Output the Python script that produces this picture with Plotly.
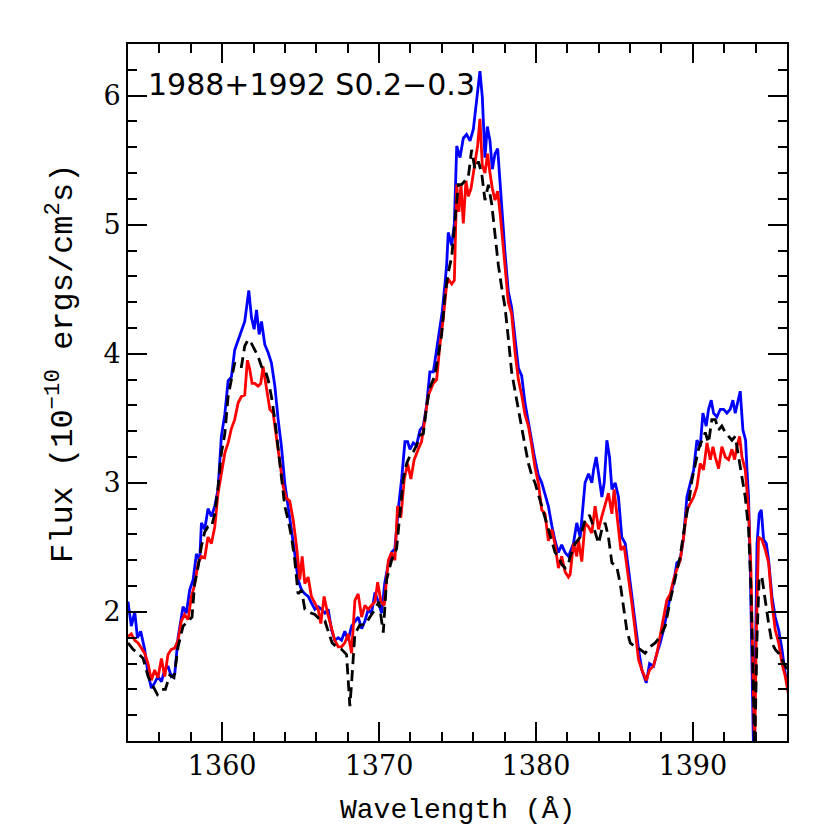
import plotly.graph_objects as go

# --- data (wavelength in Å, flux in 1e-10 ergs/cm^2/s) ---
wl_blue = [
    1354.00, 1354.21, 1354.43, 1354.60, 1354.81, 1355.06, 1355.28, 1355.49, 1355.70, 1355.91,
    1356.13, 1356.34, 1356.55, 1356.76, 1356.98, 1357.19, 1357.51, 1357.72, 1357.93, 1358.15,
    1358.36, 1358.57, 1358.68, 1358.89, 1359.10, 1359.32, 1359.53, 1359.74, 1359.95, 1360.17,
    1360.38, 1360.59, 1360.80, 1361.02, 1361.23, 1361.44, 1361.70, 1361.87, 1362.04, 1362.19,
    1362.36, 1362.51, 1362.72, 1362.93, 1363.14, 1363.36, 1363.57, 1363.78, 1363.99, 1364.21,
    1364.42, 1364.63, 1364.84, 1365.06, 1365.27, 1365.48, 1365.69, 1365.91, 1366.12, 1366.33,
    1366.55, 1366.76, 1366.97, 1367.18, 1367.40, 1367.61, 1367.82, 1368.03, 1368.25,
    1368.67, 1368.89, 1369.10, 1369.31, 1369.52, 1369.74, 1369.95, 1370.16, 1370.37, 1370.59,
    1370.80, 1371.01, 1371.22, 1371.44, 1371.65, 1371.82, 1371.97, 1372.18, 1372.39, 1372.61,
    1372.82, 1373.03, 1373.24, 1373.46, 1373.67, 1373.88, 1374.03, 1374.20, 1374.31, 1374.41,
    1374.63, 1374.80, 1374.95, 1375.16, 1375.37, 1375.58, 1375.80, 1376.01, 1376.16, 1376.33,
    1376.43, 1376.58, 1376.75, 1376.90, 1377.07, 1377.22, 1377.39, 1377.56, 1377.71, 1377.86,
    1378.03, 1378.24, 1378.45, 1378.67, 1378.88, 1379.09, 1379.30, 1379.52, 1379.73, 1379.94,
    1380.15, 1380.37, 1380.58, 1380.79, 1381.01, 1381.22, 1381.43, 1381.64, 1381.86, 1382.07,
    1382.39, 1382.60, 1382.82, 1383.03, 1383.13, 1383.35, 1383.56, 1383.67, 1383.84, 1384.05,
    1384.20, 1384.35, 1384.52, 1384.69, 1384.84, 1385.05, 1385.26, 1385.47, 1385.69, 1385.90,
    1386.11, 1386.32, 1386.54, 1386.75, 1387.03, 1387.24, 1387.49, 1387.71, 1387.92, 1388.13,
    1388.34, 1388.56, 1388.77, 1388.98, 1389.19, 1389.41, 1389.62, 1389.83, 1390.05, 1390.26,
    1390.47, 1390.64, 1390.85, 1391.00, 1391.17, 1391.32, 1391.53, 1391.75, 1391.96, 1392.17,
    1392.38, 1392.55, 1392.70, 1392.85, 1393.02, 1393.19, 1393.36, 1393.45, 1393.55, 1393.66,
    1393.77, 1393.87, 1393.98, 1394.09, 1394.23, 1394.36, 1394.51, 1394.68, 1394.83, 1395.04,
    1395.25, 1395.47, 1395.68, 1395.89, 1396.08,
]
flux_blue = [
    2.08, 1.89, 2.00, 1.80, 1.85, 1.71, 1.52, 1.41, 1.45, 1.50,
    1.46, 1.55, 1.58, 1.50, 1.52, 1.80, 2.04, 1.99, 2.17, 2.25,
    2.45, 2.40, 2.69, 2.64, 2.80, 2.74, 2.82, 2.95, 3.36, 3.53,
    3.79, 3.82, 4.03, 4.10, 4.17, 4.25, 4.49, 4.28, 4.19, 4.34,
    4.15, 4.25, 4.07, 4.01, 3.93, 3.75, 3.49, 3.28, 3.00, 2.82,
    2.66, 2.45, 2.25, 2.17, 2.14, 2.12, 2.07, 2.02, 2.04, 2.02,
    1.99, 2.02, 1.86, 1.78, 1.80, 1.78, 1.85, 1.78, 1.89,
    1.96, 1.87, 1.93, 2.02, 1.99, 2.15, 2.08, 1.99, 2.23, 2.37,
    2.46, 2.49, 2.79, 3.03, 3.32, 3.32, 3.26, 3.31, 3.29, 3.41,
    3.44, 3.60, 3.86, 3.86, 4.04, 4.21, 4.33, 4.54, 4.69, 4.94,
    4.84, 5.01, 5.61, 5.52, 5.67, 5.70, 5.65, 5.74, 5.90, 6.05,
    6.19, 5.99, 5.52, 5.76, 5.65, 5.43, 5.55, 5.59, 5.31, 5.01,
    4.78, 4.48, 4.36, 4.12, 3.89, 3.83, 3.62, 3.47, 3.32, 3.18,
    3.06, 3.00, 2.91, 2.82, 2.67, 2.55, 2.46, 2.52, 2.46, 2.43,
    2.53, 2.69, 2.58, 2.84, 3.00, 3.07, 3.00, 3.10, 3.20, 3.02,
    2.89, 3.00, 3.33, 3.20, 2.95, 3.00, 2.89, 2.58, 2.53, 2.33,
    2.12, 1.91, 1.71, 1.55, 1.45, 1.60, 1.58, 1.68, 1.76, 1.86,
    1.99, 2.12, 2.22, 2.38, 2.40, 2.58, 2.89, 3.00, 3.10, 3.33,
    3.28, 3.54, 3.44, 3.57, 3.64, 3.54, 3.51, 3.57, 3.57, 3.54,
    3.57, 3.64, 3.54, 3.62, 3.71, 3.41, 3.33, 3.10, 2.89, 2.33,
    1.55, 0.90, 1.60, 2.53, 2.76, 2.79, 2.56, 2.53, 2.40, 2.12,
    1.96, 1.86, 1.71, 1.52, 1.45,
]

wl_red = [
    1354.00, 1354.21, 1354.43, 1354.64, 1354.85, 1355.06, 1355.28, 1355.49, 1355.70, 1355.91,
    1356.13, 1356.34, 1356.55, 1356.76, 1356.98, 1357.19, 1357.40, 1357.61, 1357.83, 1358.04,
    1358.25, 1358.47, 1358.68, 1358.89, 1359.10, 1359.32, 1359.53, 1359.74, 1359.95, 1360.17,
    1360.38, 1360.59, 1360.80, 1361.02, 1361.23, 1361.44, 1361.61, 1361.76, 1361.91, 1362.08,
    1362.29, 1362.46, 1362.61, 1362.82, 1363.04, 1363.25, 1363.46, 1363.67, 1363.89, 1364.10,
    1364.31, 1364.53, 1364.74, 1364.95, 1365.10, 1365.27, 1365.48, 1365.69, 1365.91, 1366.12,
    1366.29, 1366.50, 1366.72, 1366.93, 1367.18, 1367.40, 1367.61, 1367.82, 1368.03, 1368.25,
    1368.46, 1368.67, 1368.89, 1369.10, 1369.31, 1369.52, 1369.74, 1369.91, 1370.12, 1370.33,
    1370.59, 1370.80, 1371.01, 1371.18, 1371.39, 1371.61, 1371.82, 1372.03, 1372.24, 1372.50,
    1372.71, 1372.93, 1373.14, 1373.46, 1373.67, 1373.88, 1374.09, 1374.31, 1374.46, 1374.63,
    1374.80, 1374.95, 1375.09, 1375.22, 1375.37, 1375.54, 1375.69, 1375.86, 1376.01, 1376.16,
    1376.28, 1376.43, 1376.58, 1376.75, 1376.92, 1377.07, 1377.22, 1377.39, 1377.56, 1377.73,
    1377.92, 1378.07, 1378.24, 1378.45, 1378.67, 1378.88, 1379.09, 1379.30, 1379.52, 1379.73,
    1379.94, 1380.15, 1380.37, 1380.58, 1380.79, 1381.01, 1381.22, 1381.43, 1381.64, 1381.86,
    1382.07, 1382.18, 1382.39, 1382.60, 1382.71, 1382.92, 1383.13, 1383.35, 1383.56, 1383.77,
    1383.99, 1384.20, 1384.41, 1384.62, 1384.84, 1384.98, 1385.20, 1385.41, 1385.62, 1385.90,
    1386.11, 1386.32, 1386.54, 1386.75, 1387.03, 1387.24, 1387.49, 1387.71, 1387.92, 1388.13,
    1388.34, 1388.56, 1388.77, 1388.98, 1389.19, 1389.41, 1389.62, 1389.83, 1390.05, 1390.26,
    1390.47, 1390.68, 1390.90, 1391.11, 1391.28, 1391.43, 1391.64, 1391.85, 1392.07, 1392.28,
    1392.49, 1392.66, 1392.81, 1392.98, 1393.13, 1393.34, 1393.55, 1393.70, 1393.83, 1393.94,
    1394.04, 1394.19, 1394.40, 1394.62, 1394.83, 1395.04, 1395.25, 1395.47, 1395.68, 1395.89,
    1396.08,
]
flux_red = [
    1.81, 1.83, 1.78, 1.76, 1.72, 1.68, 1.60, 1.47, 1.55, 1.49,
    1.64, 1.50, 1.67, 1.71, 1.72, 1.78, 1.93, 1.98, 1.94, 2.12,
    2.21, 2.38, 2.43, 2.42, 2.58, 2.53, 2.66, 2.92, 3.07, 3.23,
    3.31, 3.42, 3.49, 3.62, 3.67, 3.68, 3.95, 3.88, 3.77, 3.77,
    3.75, 3.77, 3.90, 3.72, 3.57, 3.54, 3.36, 3.20, 2.97, 2.88,
    2.86, 2.71, 2.51, 2.25, 2.43, 2.22, 2.27, 2.12, 2.07, 2.02,
    1.91, 2.12, 1.99, 1.89, 1.78, 1.73, 1.73, 1.76, 1.83, 1.68,
    2.09, 2.14, 1.96, 2.05, 2.02, 2.05, 2.08, 2.23, 2.08, 2.05,
    2.40, 2.46, 2.40, 2.82, 2.73, 3.03, 3.15, 3.03, 3.18, 3.26,
    3.32, 3.50, 3.68, 3.77, 3.80, 4.07, 4.27, 4.54, 4.57, 4.54,
    4.57, 5.31, 5.10, 5.31, 5.01, 5.34, 5.22, 5.28, 5.40, 5.55,
    5.61, 5.82, 5.46, 5.40, 5.55, 5.40, 5.28, 5.19, 5.26, 5.07,
    4.81, 4.60, 4.40, 4.31, 4.01, 3.80, 3.68, 3.53, 3.44, 3.29,
    3.12, 3.00, 2.79, 2.76, 2.55, 2.64, 2.52, 2.34, 2.43, 2.31,
    2.27, 2.29, 2.53, 2.43, 2.56, 2.39, 2.69, 2.66, 2.61, 2.82,
    2.64, 2.74, 2.84, 2.92, 2.76, 2.95, 2.71, 2.48, 2.51, 2.27,
    2.07, 1.86, 1.63, 1.55, 1.47, 1.55, 1.58, 1.68, 1.81, 1.96,
    2.09, 2.14, 2.25, 2.33, 2.40, 2.58, 2.79, 2.84, 2.89, 2.97,
    3.15, 3.10, 3.31, 3.18, 3.28, 3.20, 3.11, 3.28, 3.20, 3.18,
    3.26, 3.18, 3.28, 3.36, 3.20, 3.10, 2.79, 2.33, 1.55, 0.90,
    1.81, 2.58, 2.56, 2.48, 2.38, 2.07, 1.86, 1.76, 1.60, 1.50,
    1.37,
]

wl_black = [
    1354.00, 1354.32, 1354.64, 1354.96, 1355.28, 1355.59, 1355.87, 1356.13, 1356.38, 1356.66,
    1356.93, 1357.19, 1357.51, 1357.83, 1358.08, 1358.25, 1358.47, 1358.68, 1358.89, 1359.10,
    1359.32, 1359.53, 1359.74, 1359.95, 1360.17, 1360.38, 1360.59, 1360.80, 1361.02, 1361.23,
    1361.44, 1361.65, 1361.87, 1362.08, 1362.29, 1362.51, 1362.72, 1362.93, 1363.14, 1363.36,
    1363.57, 1363.78, 1363.99, 1364.21, 1364.42, 1364.63, 1364.84, 1365.06, 1365.27, 1365.48,
    1365.69, 1365.91, 1366.23, 1366.55, 1366.76, 1367.01, 1367.29, 1367.61, 1367.93, 1368.03,
    1368.14, 1368.25, 1368.46, 1368.78, 1369.10, 1369.42, 1369.74, 1369.99, 1370.27, 1370.48,
    1370.80, 1371.12, 1371.33, 1371.54, 1371.76, 1371.97, 1372.18, 1372.39, 1372.61, 1372.82,
    1373.03, 1373.24, 1373.56, 1373.78, 1373.99, 1374.20, 1374.41, 1374.63, 1374.84, 1375.05,
    1375.26, 1375.48, 1375.69, 1375.90, 1376.11, 1376.33, 1376.54, 1376.75, 1376.97, 1377.18,
    1377.39, 1377.60, 1377.82, 1378.03, 1378.24, 1378.45, 1378.67, 1378.88, 1379.09, 1379.30,
    1379.52, 1379.73, 1379.94, 1380.15, 1380.37, 1380.58, 1380.79, 1381.01, 1381.22, 1381.43,
    1381.64, 1381.86, 1382.07, 1382.18, 1382.50, 1382.82, 1383.13, 1383.41, 1383.67, 1383.99,
    1384.20, 1384.41, 1384.62, 1384.84, 1385.15, 1385.37, 1385.58, 1385.79, 1386.01, 1386.32,
    1386.64, 1386.96, 1387.28, 1387.60, 1387.92, 1388.24, 1388.56, 1388.88, 1389.19, 1389.51,
    1389.73, 1389.94, 1390.15, 1390.36, 1390.58, 1390.79, 1391.00, 1391.21, 1391.43, 1391.64,
    1391.85, 1392.07, 1392.28, 1392.49, 1392.70, 1392.92, 1393.13, 1393.34, 1393.55, 1393.70,
    1393.83, 1393.94, 1394.09, 1394.23, 1394.40, 1394.62, 1394.83, 1395.04, 1395.25, 1395.47,
    1395.68, 1395.89, 1396.08,
]
flux_black = [
    1.76, 1.71, 1.68, 1.64, 1.50, 1.42, 1.36, 1.40, 1.40, 1.51,
    1.49, 1.73, 1.89, 1.93, 1.96, 2.22, 2.35, 2.51, 2.62, 2.66,
    2.66, 2.76, 2.97, 3.23, 3.38, 3.67, 3.80, 3.93, 3.90, 3.90,
    4.06, 4.11, 4.08, 4.03, 3.98, 3.90, 3.88, 3.80, 3.67, 3.49,
    3.28, 3.07, 2.82, 2.71, 2.58, 2.40, 2.14, 2.17, 2.02, 2.00,
    1.99, 1.98, 1.94, 1.93, 1.85, 1.76, 1.73, 1.71, 1.67, 1.45,
    1.27, 1.45, 1.83, 1.90, 1.90, 1.96, 2.02, 2.08, 1.84, 2.25,
    2.40, 2.49, 2.76, 3.03, 3.15, 3.21, 3.24, 3.29, 3.37, 3.38,
    3.59, 3.74, 3.83, 3.98, 4.15, 4.45, 4.63, 4.75, 5.01, 5.31,
    5.31, 5.34, 5.37, 5.58, 5.43, 5.49, 5.40, 5.19, 5.31, 5.16,
    4.92, 4.69, 4.51, 4.36, 4.12, 3.86, 3.71, 3.56, 3.44, 3.29,
    3.15, 3.06, 3.00, 2.91, 2.82, 2.73, 2.64, 2.55, 2.46, 2.43,
    2.37, 2.34, 2.37, 2.43, 2.53, 2.58, 2.71, 2.75, 2.66, 2.53,
    2.64, 2.69, 2.58, 2.38, 2.35, 2.22, 2.04, 1.86, 1.76, 1.73,
    1.71, 1.68, 1.73, 1.76, 1.81, 1.89, 2.09, 2.27, 2.43, 2.69,
    2.84, 3.02, 3.15, 3.26, 3.33, 3.39, 3.31, 3.49, 3.49, 3.41,
    3.44, 3.39, 3.36, 3.33, 3.36, 3.20, 3.05, 2.89, 2.64, 2.20,
    1.55, 0.90, 1.81, 2.27, 2.27, 2.07, 1.91, 1.76, 1.71, 1.68,
    1.63, 1.58, 1.55,
]

x_ticks = [1360, 1370, 1380, 1390]
y_ticks = [2, 3, 4, 5, 6]
label_text = "1988+1992 S0.2\u22120.3"

fig = go.Figure()
fig.add_trace(go.Scatter(x=wl_blue, y=flux_blue, mode="lines",
                         line=dict(color="#0000ff", width=2.8)))
fig.add_trace(go.Scatter(x=wl_red, y=flux_red, mode="lines",
                         line=dict(color="#ff0000", width=2.8)))
fig.add_trace(go.Scatter(x=wl_black, y=flux_black, mode="lines",
                         line=dict(color="black", width=2.8, dash="11px,6px")))

tickfont = dict(family="DejaVu Serif", size=27, color="black")
axis_common = dict(
    showline=True, linecolor="black", linewidth=2, mirror="ticks",
    ticks="inside", ticklen=19, tickwidth=2, tickcolor="black",
    showgrid=False, zeroline=False, tickfont=tickfont,
)

fig.update_xaxes(range=[1354, 1396], tickvals=x_ticks,
                 minor=dict(dtick=2, ticks="inside", ticklen=9, tickwidth=2, tickcolor="black"),
                 **axis_common)
fig.update_yaxes(range=[1.0, 6.4], tickvals=y_ticks,
                 minor=dict(dtick=0.2, ticks="inside", ticklen=9, tickwidth=2, tickcolor="black"),
                 **axis_common)

fig.add_annotation(text=label_text, xref="paper", yref="paper", x=0.028, y=0.942,
                   xanchor="left", yanchor="middle", showarrow=False,
                   font=dict(family="DejaVu Sans", size=30, color="black"))
fig.add_annotation(text="Wavelength (\u00c5)", xref="paper", yref="paper", x=0.5, y=-0.099,
                   xanchor="center", yanchor="middle", showarrow=False,
                   font=dict(family="Liberation Mono", size=28, color="black"))
fig.add_annotation(text="Flux (10<sup>\u221210</sup> ergs/cm<sup>2</sup>s)",
                   xref="paper", yref="paper", x=-0.102, y=0.542, textangle=-90,
                   xanchor="center", yanchor="middle", showarrow=False,
                   font=dict(family="Liberation Mono", size=32, color="black"))

# the page body adds an 8px offset, so margins are shifted to keep the frame in place
fig.update_layout(
    width=830, height=830, showlegend=False,
    margin=dict(l=120, r=51, t=36, b=97),
    paper_bgcolor="white", plot_bgcolor="white",
)

fig.write_html("out.html")
